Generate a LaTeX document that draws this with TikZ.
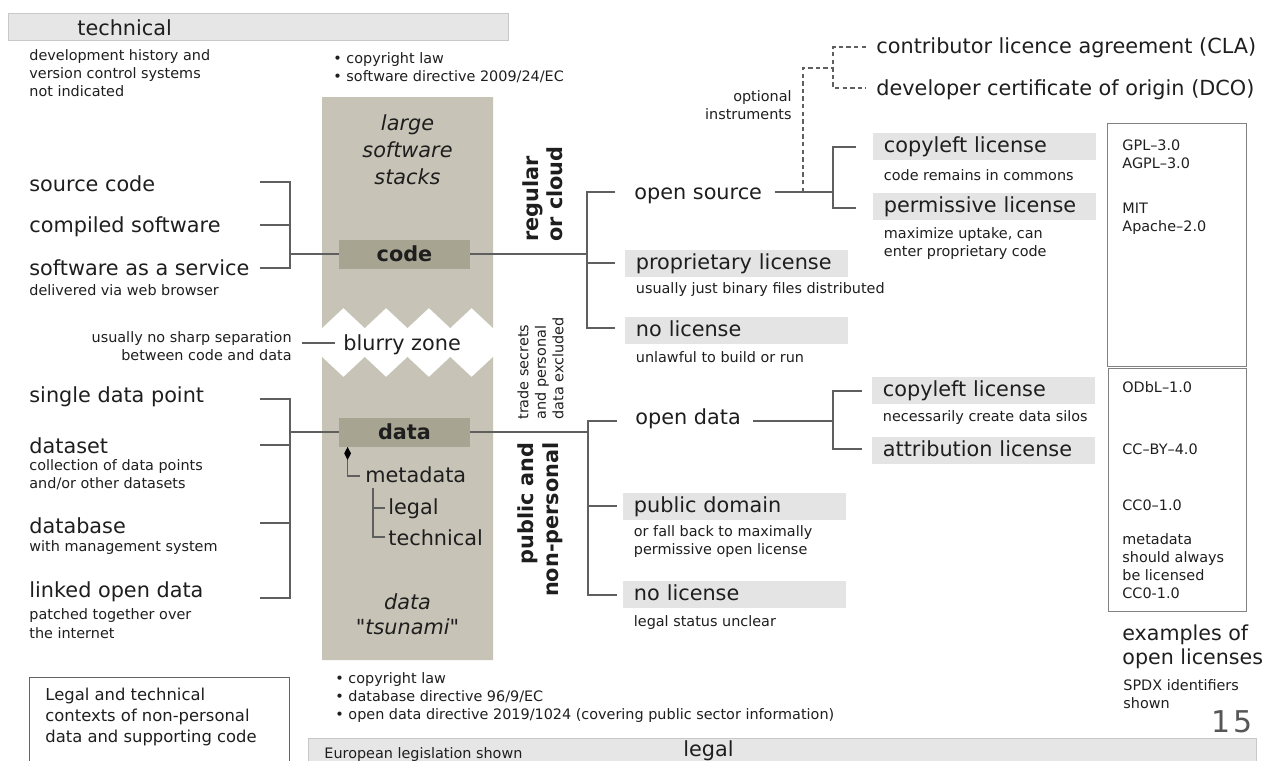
\documentclass[tikz,border=0pt]{standalone}
\usepackage{fontspec}
\setmainfont{DejaVu Sans}[ItalicFont={DejaVu Sans Oblique},BoldFont={DejaVu Sans Bold},BoldItalicFont={DejaVu Sans Bold Oblique}]
% oblique face without TeX quote ligatures, for the straight quotes
\newfontfamily\plainoblique{DejaVu Sans Oblique}
\usetikzlibrary{arrows.meta}
\definecolor{ink}{RGB}{30,30,30}
\definecolor{wirec}{RGB}{95,95,95}
\definecolor{col}{RGB}{199,195,182}
\definecolor{colbox}{RGB}{168,164,146}
\definecolor{licfill}{RGB}{228,228,228}
\definecolor{barfill}{RGB}{230,230,230}
\definecolor{barline}{RGB}{200,200,200}
\definecolor{frame}{RGB}{130,130,130}
\definecolor{frametwo}{RGB}{100,100,100}
\begin{document}
\begin{tikzpicture}[x=0.5pt,y=-0.5pt,
  lg/.style={font=\fontsize{10.4}{12.5}\selectfont, text=ink, inner sep=0pt},
  sm/.style={font=\fontsize{7.2}{9}\selectfont, text=ink, inner sep=0pt},
  md/.style={font=\fontsize{8.2}{10.5}\selectfont, text=ink, inner sep=0pt},
  it/.style={font=\fontsize{10.4}{13.5}\selectfont\itshape, text=ink, inner sep=0pt},
  bd/.style={font=\fontsize{10.4}{12.3}\selectfont\bfseries, text=ink, inner sep=0pt},
  kbox/.style={fill=colbox, minimum width=65.5pt, minimum height=14.5pt, inner sep=0pt,
    font=\fontsize{10.4}{12.5}\selectfont\bfseries, text=ink},
  lic/.style={fill=licfill, anchor=north west, minimum height=13.5pt, text width=101pt,
    align=left, inner xsep=5.25pt, inner ysep=0pt, text height=7.9pt, text depth=2.5pt,
    font=\fontsize{10.4}{12.5}\selectfont, text=ink},
  exbox/.style={draw=frame, line width=0.55pt, anchor=north west, inner sep=0pt},
  wire/.style={draw=wirec, line width=0.65pt},
  dashwire/.style={draw=wirec, line width=0.6pt, dash pattern=on 2.2pt off 1.6pt},
  bar/.style={fill=barfill, draw=barline, line width=0.5pt},
]
\useasboundingbox (0,0) rectangle (1263,760);
\clip (0,0) rectangle (1263,760);

% ---------- header and footer bars
\draw[bar] (8,13) rectangle (508,40);
\draw[bar] (308,738) rectangle (1256,790);
\node[lg, anchor=base west] (techlbl) at (77,35) {technical};
\node[sm, anchor=base west] (eulbl) at (324,758) {European legislation shown};
\node[lg, anchor=base west] (legallbl) at (683,756) {legal};

\node[sm, anchor=north west, align=left] (devhist) at (29,49)
  {development history and\\version control systems\\not indicated};
\node[sm, anchor=north west, align=left] (swlaw) at (333,52)
  {• copyright law\\• software directive 2009/24/EC};
\node[sm, anchor=north west, align=left] (dblaw) at (335,672)
  {• copyright law\\• database directive 96/9/EC\\• open data directive 2019/1024 (covering public sector information)};

% ---------- central column with the blurry zone cut out
\fill[col] (322,97) -- (493,97) -- (493,328) -- (471.6,308) -- (450.25,328) -- (428.9,308)
  -- (407.5,328) -- (386.1,308) -- (364.75,328) -- (343.4,308) -- (322,328) -- cycle;
\fill[col] (322,357) -- (343.4,377) -- (364.75,357) -- (386.1,377) -- (407.5,357)
  -- (428.9,377) -- (450.25,357) -- (471.6,377) -- (493,357) -- (493,660) -- (322,660) -- cycle;

\node[it, align=center, anchor=north] (stacks) at (407.5,114) {large\\software\\stacks};
\node[kbox] (code) at (404.5,254) {code};
\node[lg, anchor=base west] (blurry) at (343,350) {blurry zone};
\node[kbox] (data) at (404.5,432) {data};
\node[lg, anchor=base west] (meta) at (365,482) {metadata};
\node[lg, anchor=base west] (mlegal) at (388,514) {legal};
\node[lg, anchor=base west] (mtech) at (388,545) {technical};
\node[lg, font=\fontsize{10.4}{12.5}\selectfont\plainoblique, align=center, anchor=north] (tsu) at (407.5,593) {data\\"tsunami"};

% ---------- left-hand labels
\node[lg, anchor=base west] (src) at (29,191) {source code};
\node[lg, anchor=base west] (comp) at (29,232) {compiled software};
\node[lg, anchor=base west] (saas) at (29,275) {software as a service};
\node[sm, anchor=base west] (saasnote) at (29,295) {delivered via web browser};
\node[sm, anchor=north east, align=right] (sepnote) at (292,331)
  {usually no sharp separation\\between code and data};
\node[lg, anchor=base west] (sdp) at (29,402) {single data point};
\node[lg, anchor=base west] (dset) at (29,453) {dataset};
\node[sm, font=\fontsize{7.2}{8.6}\selectfont, anchor=north west, align=left] (dsetnote) at (29,459.5)
  {collection of data points\\and/or other datasets};
\node[lg, anchor=base west] (dbase) at (29,533) {database};
\node[sm, anchor=base west] (dbnote) at (29,551) {with management system};
\node[lg, anchor=base west] (lod) at (29,597) {linked open data};
\node[sm, font=\fontsize{7.2}{9.5}\selectfont, anchor=north west, align=left] (lodnote) at (29,608)
  {patched together over\\the internet};

\node[draw=frametwo, line width=0.7pt, anchor=north west, minimum width=130pt,
  minimum height=60pt, inner sep=0pt] (ctxbox) at (29,677) {};
\node[md, anchor=north west, align=left] (ctx) at (45,687.5)
  {Legal and technical\\contexts of non-personal\\data and supporting code};

% ---------- rotated captions
\node[bd, rotate=90, anchor=north west, align=left] (regcloud) at (522,242) {regular\\or cloud};
\node[sm, font=\fontsize{7.2}{8.75}\selectfont, rotate=90, anchor=north west, align=left] (trade) at (517,420)
  {trade secrets\\and personal\\data excluded};
\node[bd, font=\fontsize{10.4}{12.6}\selectfont\bfseries, rotate=90, anchor=north east, align=right] (pubnp) at (517,442)
  {public and\\non-personal};

% ---------- code branch
\node[lg, anchor=base west] (os) at (634,199) {open source};
\node[lic] (prop) at (625,250) {proprietary license};
\node[sm, anchor=base west] (propnote) at (635.5,293) {usually just binary files distributed};
\node[lic] (nlcode) at (625,317) {no license};
\node[sm, anchor=base west] (nlcodenote) at (635.5,362) {unlawful to build or run};
\node[lic] (clcode) at (873,133) {copyleft license};
\node[sm, anchor=base west] (clcodenote) at (883.5,180) {code remains in commons};
\node[lic] (pl) at (873,193) {permissive license};
\node[sm, anchor=north west, align=left] (plnote) at (883.5,227)
  {maximize uptake, can\\enter proprietary code};
\node[lg, anchor=base west] (cla) at (876,54) {contributor licence agreement (CLA)};
\node[lg, anchor=base west] (dco) at (876,95) {developer certificate of origin (DCO)};
\node[sm, anchor=north east, align=right] (optinst) at (792,90) {optional\\instruments};

% ---------- data branch
\node[lg, anchor=base west] (od) at (635,424) {open data};
\node[lic] (cldata) at (872,377) {copyleft license};
\node[sm, anchor=base west] (cldatanote) at (882.5,421) {necessarily create data silos};
\node[lic] (attr) at (872,437) {attribution license};
\node[lic] (pd) at (623,493) {public domain};
\node[sm, anchor=north west, align=left] (pdnote) at (633.5,525)
  {or fall back to maximally\\permissive open license};
\node[lic] (nldata) at (623,581) {no license};
\node[sm, anchor=base west] (nldatanote) at (633.5,626) {legal status unclear};

% ---------- license examples
\node[exbox, minimum width=69.5pt, minimum height=121.5pt] (excode) at (1107,123) {};
\node[sm, anchor=north west, align=left] (gpl) at (1122,139.5) {GPL–3.0\\AGPL–3.0};
\node[sm, anchor=north west, align=left] (mit) at (1122,202.5) {MIT\\Apache–2.0};
\node[exbox, minimum width=69pt, minimum height=121.5pt] (exdata) at (1108,368) {};
\node[sm, anchor=base west] (odbl) at (1122,392) {ODbL–1.0};
\node[sm, anchor=base west] (ccby) at (1122,454) {CC–BY–4.0};
\node[sm, anchor=base west] (cczero) at (1122,510) {CC0–1.0};
\node[sm, anchor=north west, align=left] (metanote) at (1122,533)
  {metadata\\should always\\be licensed\\CC0-1.0};
\node[lg, font=\fontsize{10.3}{12}\selectfont, anchor=north west, align=left] (exlbl) at (1122,624)
  {examples of\\open licenses};
\node[sm, anchor=north west, align=left] (spdx) at (1123,679.5) {SPDX identifiers\\shown};
\node[font=\fontsize{15}{15}\selectfont, text=ink!75, anchor=base east, inner sep=0pt] (pgno) at (1253,732) {1\kern1.5pt5};

% ---------- connectors: code side
\coordinate (cbA) at (260,182);
\coordinate (cbB) at (260,225);
\coordinate (cbC) at (260,268);
\coordinate (cbJ) at (290,254);
\draw[wire] (cbA) -| (cbJ |- cbC) -- (cbC);
\draw[wire] (cbB) -- (cbJ |- cbB);
\draw[wire] (cbJ) -- (code.west);

\coordinate (crJ) at (587,254);
\coordinate (osB) at (615,192);
\coordinate (propB) at (615,263);
\coordinate (nlcodeB) at (615,328);
\draw[wire] (code.east) -- (crJ);
\draw[wire] (osB) -| (crJ |- nlcodeB) -- (nlcodeB);
\draw[wire] (crJ |- propB) -- (propB);

\coordinate (osR) at (775,192);
\coordinate (osF) at (833,192);
\coordinate (clB) at (856,147);
\coordinate (plB) at (856,208);
\draw[wire] (osR) -- (osF);
\draw[wire] (clB) -| (osF |- plB) -- (plB);

\coordinate (dOs) at (803,192);
\coordinate (dTop) at (803,68);
\coordinate (dJ) at (833,68);
\coordinate (claL) at (866,47);
\coordinate (dcoL) at (866,88);
\draw[dashwire] (dOs) -- (dTop) -- (dJ);
\draw[dashwire] (claL) -| (dJ |- dcoL) -- (dcoL);

\coordinate (bzA) at (302,343);
\coordinate (bzB) at (335,343);
\draw[wire] (bzA) -- (bzB);

% ---------- connectors: data side
\coordinate (dbA) at (260,399);
\coordinate (dbB) at (260,445);
\coordinate (dbC) at (260,523);
\coordinate (dbD) at (260,598);
\coordinate (dbJ) at (290,432);
\draw[wire] (dbA) -| (dbJ |- dbD) -- (dbD);
\draw[wire] (dbB) -- (dbJ |- dbB);
\draw[wire] (dbC) -- (dbJ |- dbC);
\draw[wire] (dbJ) -- (data.west);

\coordinate (drJ) at (588,432);
\coordinate (odB) at (617,421);
\coordinate (pdB) at (617,506);
\coordinate (nldataB) at (617,595);
\draw[wire] (data.east) -- (drJ);
\draw[wire] (odB) -| (drJ |- nldataB) -- (nldataB);
\draw[wire] (drJ |- pdB) -- (pdB);

\coordinate (odR) at (753,421);
\coordinate (odF) at (833,421);
\coordinate (cdB) at (862,391);
\coordinate (atB) at (862,449);
\draw[wire] (odR) -- (odF);
\draw[wire] (cdB) -| (odF |- atB) -- (atB);

% metadata tree
\coordinate (metaIn) at (360,476);
\draw[wire, {Diamond[length=6.5pt,width=3.4pt,color=black]}-] ([xshift=4.5pt]data.south west) |- (metaIn);
\coordinate (mT) at (373,488);
\coordinate (mlB) at (385,508);
\coordinate (mtB) at (385,537);
\draw[wire] (mT) |- (mtB);
\draw[wire] (mT |- mlB) -- (mlB);
\end{tikzpicture}
\end{document}
